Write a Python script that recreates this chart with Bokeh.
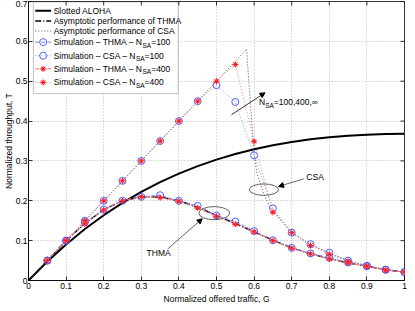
import math
from bokeh.plotting import figure
from bokeh.models import Range1d, FixedTicker, Label, Arrow, NormalHead, BoxAnnotation, Title
from bokeh.embed import file_html
from bokeh.resources import INLINE

# ---------------- data ----------------
G = [0.0, 0.05, 0.1, 0.15, 0.2, 0.25, 0.3, 0.35, 0.4, 0.45, 0.5,
     0.55, 0.6, 0.65, 0.7, 0.75, 0.8, 0.85, 0.9, 0.95, 1.0]
aloha_T = [0.0, 0.0476, 0.0905, 0.1291, 0.1637, 0.1947, 0.2222, 0.2466, 0.2681, 0.2869, 0.3033,
           0.3173, 0.3293, 0.3393, 0.3476, 0.3543, 0.3595, 0.3633, 0.3659, 0.3674, 0.3679]
thma_asym_T = [0.0, 0.05, 0.1, 0.143, 0.178, 0.2, 0.21, 0.209, 0.2, 0.184, 0.163,
               0.143, 0.122, 0.101, 0.082, 0.067, 0.055, 0.044, 0.036, 0.027, 0.021]
csa_asym_G = [0.0, 0.58, 0.588, 0.596, 0.6, 0.607, 0.624, 0.641, 0.65,
              0.7, 0.75, 0.8, 0.85, 0.9, 0.95, 1.0]
csa_asym_T = [0.0, 0.58, 0.47, 0.37, 0.32, 0.271, 0.222, 0.185, 0.176,
              0.12, 0.09, 0.068, 0.05, 0.037, 0.027, 0.021]

G_sim = [0.05, 0.1, 0.15, 0.2, 0.25, 0.3, 0.35, 0.4, 0.45, 0.5,
         0.55, 0.6, 0.65, 0.7, 0.75, 0.8, 0.85, 0.9, 0.95, 1.0]
thma_100 = [0.05, 0.1, 0.146, 0.178, 0.2, 0.21, 0.214, 0.2, 0.187, 0.163,
            0.148, 0.124, 0.101, 0.082, 0.068, 0.057, 0.045, 0.036, 0.027, 0.021]
csa_100 = [0.05, 0.1, 0.15, 0.2, 0.25, 0.3, 0.35, 0.4, 0.45, 0.49,
           0.448, 0.314, 0.181, 0.12, 0.091, 0.07, 0.05, 0.037, 0.027, 0.021]
thma_400 = [0.05, 0.1, 0.142, 0.177, 0.2, 0.21, 0.208, 0.199, 0.182, 0.161,
            0.141, 0.122, 0.1, 0.081, 0.067, 0.054, 0.044, 0.035, 0.026, 0.021]
csa_400 = [0.05, 0.1, 0.15, 0.2, 0.25, 0.3, 0.35, 0.4, 0.45, 0.5,
           0.542, 0.349, 0.171, 0.12, 0.088, 0.066, 0.048, 0.036, 0.026, 0.021]

x_ticks = [0.0, 0.1, 0.2, 0.3, 0.4, 0.5, 0.6, 0.7, 0.8, 0.9, 1.0]
x_tick_labels = ["0", "0.1", "0.2", "0.3", "0.4", "0.5", "0.6", "0.7", "0.8", "0.9", "1"]
y_ticks = [0.0, 0.1, 0.2, 0.3, 0.4, 0.5, 0.6, 0.7]
y_tick_labels = ["0", "0.1", "0.2", "0.3", "0.4", "0.5", "0.6", "0.7"]

# ---------------- styling ----------------
FONT = "Liberation Sans"
FS = 8.5
BLUE = "#3f4fff"
RED = "#ff1a1a"
BLUE_LINE = "#7a86ff"
RED_LINE = "#ff6a6a"
X_MIN, X_MAX, Y_MIN, Y_MAX = 0, 1, 0, 0.7

p = figure(width=407, height=303, x_range=Range1d(X_MIN, X_MAX), y_range=Range1d(Y_MIN, Y_MAX),
           output_backend="svg", toolbar_location=None,
           min_border_left=0, min_border_right=3, min_border_top=1, min_border_bottom=0)
p.outline_line_color = "black"
p.outline_line_width = 0.8

p.xaxis.ticker = FixedTicker(ticks=x_ticks)
p.yaxis.ticker = FixedTicker(ticks=y_ticks)
p.xgrid.ticker = FixedTicker(ticks=x_ticks)
p.ygrid.ticker = FixedTicker(ticks=y_ticks)
p.xaxis.major_label_overrides = {t: l for t, l in zip(x_ticks, x_tick_labels)}
p.yaxis.major_label_overrides = {t: l for t, l in zip(y_ticks, y_tick_labels)}
p.yaxis.axis_label = "Normalized throughput, T"
for ax in (p.xaxis, p.yaxis):
    ax.major_tick_in = 4
    ax.major_tick_out = 0
    ax.minor_tick_in = 0
    ax.minor_tick_out = 0
    ax.minor_tick_line_color = None
    ax.axis_line_color = "black"
    ax.axis_line_width = 0.8
    ax.major_tick_line_width = 0.8
    ax.major_label_text_font = FONT
    ax.major_label_text_font_size = f"{FS}px"
    ax.major_label_text_color = "black"
    ax.axis_label_text_font = FONT
    ax.axis_label_text_font_size = f"{FS}px"
    ax.axis_label_text_font_style = "normal"
    ax.axis_label_text_color = "black"
p.xaxis.major_label_standoff = 2
p.yaxis.major_label_standoff = 1
p.yaxis.axis_label_standoff = -1

# x-axis title as a Title placed below the axis (tighter than the axis label)
p.add_layout(Title(text="Normalized offered traffic, G", align="center", text_font=FONT,
                   text_font_size=f"{FS}px", text_font_style="normal", text_color="black",
                   standoff=0, offset=0), "below")

p.grid.grid_line_color = "#a8a8a8"
p.grid.grid_line_dash = "1 2"
p.grid.grid_line_width = 0.8

# inward ticks on the top and right edges of the box (half of each dash is clipped)
p.scatter(x_ticks, [Y_MAX] * len(x_ticks), marker="dash", angle=math.pi / 2, size=8,
          line_color="black", line_width=0.8)
p.scatter([X_MAX] * len(y_ticks), y_ticks, marker="dash", size=8,
          line_color="black", line_width=0.8)

# ---------------- data marks ----------------
p.line(G, aloha_T, line_color="black", line_width=2)
p.line(G, thma_asym_T, line_color="black", line_width=1.4, line_dash="6 2 1 2")
p.line(csa_asym_G, csa_asym_T, line_color="#505050", line_width=1, line_dash="1 2")

p.line(G_sim, thma_100, line_color=BLUE_LINE, line_width=1, line_dash="4 2")
p.scatter(G_sim, thma_100, marker="circle", size=7, fill_color=None, line_color=BLUE, line_width=0.9)
p.line(G_sim, csa_100, line_color=BLUE_LINE, line_width=0.9, line_dash="1 2")
p.scatter(G_sim, csa_100, marker="circle", size=7, fill_color=None, line_color=BLUE, line_width=0.9)
p.line(G_sim, thma_400, line_color=RED_LINE, line_width=1, line_dash="4 2")
p.scatter(G_sim, thma_400, marker="circle", size=4, fill_color="#ff8080", line_color=None)
p.scatter(G_sim, thma_400, marker="asterisk", size=6, line_color=RED, line_width=1)
p.line(G_sim, csa_400, line_color=RED_LINE, line_width=0.9, line_dash="1 2")
p.scatter(G_sim, csa_400, marker="circle", size=4, fill_color="#ff8080", line_color=None)
p.scatter(G_sim, csa_400, marker="asterisk", size=6, line_color=RED, line_width=1)

# ---------------- text helpers ----------------
W = {' ': 278, '–': 556, '=': 584, ',': 278, '.': 278, '∞': 713,
     'S': 667, 'A': 667, 'N': 722, 'T': 611, 'H': 722, 'M': 833, 'C': 722,
     'i': 222, 'm': 833, 'u': 556, 'l': 222, 'a': 556, 't': 278, 'o': 556, 'n': 556}


def text_width(s, size):
    return sum(W.get(c, 556) for c in s) * size / 1000.0


def sub_label(x, y, parts, size=FS, sub_size=6.5):
    off = 0.0
    for txt, is_sub in parts:
        fs = sub_size if is_sub else size
        p.add_layout(Label(x=x, y=y, x_offset=off, y_offset=-3 if is_sub else 0, text=txt,
                           text_font=FONT, text_font_size=f"{fs}px", text_baseline="middle",
                           text_align="left", text_color="black"))
        off += text_width(txt, fs)


# ---------------- legend ----------------
leg_box = BoxAnnotation(left=0.013, right=0.398, bottom=0.469, top=0.699,
                        fill_color="white", fill_alpha=1, line_color="black",
                        line_width=0.8, level="underlay")
p.add_layout(leg_box)
row_y = [0.677, 0.651, 0.626, 0.598, 0.564, 0.531, 0.497]
lx0, lx1, lxm, ltx = 0.018, 0.06, 0.039, 0.067
rows = [
    [("Slotted ALOHA", False)],
    [("Asymptotic performance of THMA", False)],
    [("Asymptotic performance of CSA", False)],
    [("Simulation – THMA – N", False), ("SA", True), ("=100", False)],
    [("Simulation – CSA – N", False), ("SA", True), ("=100", False)],
    [("Simulation – THMA – N", False), ("SA", True), ("=400", False)],
    [("Simulation – CSA – N", False), ("SA", True), ("=400", False)],
]
p.line([lx0, lx1], [row_y[0]] * 2, line_color="black", line_width=2)
p.line([lx0, lx1], [row_y[1]] * 2, line_color="black", line_width=1.4, line_dash="6 2 1 2")
p.line([lx0, lx1], [row_y[2]] * 2, line_color="#505050", line_width=1, line_dash="1 2")
p.line([lx0, lx1], [row_y[3]] * 2, line_color=BLUE_LINE, line_width=1, line_dash="4 2")
p.scatter([lxm], [row_y[3]], marker="circle", size=7, fill_color=None, line_color=BLUE, line_width=0.9)
p.line([lx0, lx1], [row_y[4]] * 2, line_color=BLUE_LINE, line_width=0.9, line_dash="1 2")
p.scatter([lxm], [row_y[4]], marker="circle", size=7, fill_color=None, line_color=BLUE, line_width=0.9)
p.line([lx0, lx1], [row_y[5]] * 2, line_color=RED_LINE, line_width=1, line_dash="4 2")
p.scatter([lxm], [row_y[5]], marker="circle", size=4, fill_color="#ff8080", line_color=None)
p.scatter([lxm], [row_y[5]], marker="asterisk", size=6, line_color=RED, line_width=1)
p.line([lx0, lx1], [row_y[6]] * 2, line_color=RED_LINE, line_width=0.9, line_dash="1 2")
p.scatter([lxm], [row_y[6]], marker="circle", size=4, fill_color="#ff8080", line_color=None)
p.scatter([lxm], [row_y[6]], marker="asterisk", size=6, line_color=RED, line_width=1)
for yy, parts in zip(row_y, rows):
    sub_label(ltx, yy, parts)

# ---------------- annotations ----------------
p.ellipse(x=[0.626], y=[0.228], width=[0.0775], height=[0.0286],
          fill_color=None, line_color="#606060", line_width=1)
p.ellipse(x=[0.494], y=[0.169], width=[0.082], height=[0.0327],
          fill_color=None, line_color="#606060", line_width=1)

p.add_layout(Arrow(end=NormalHead(size=5, fill_color="black", line_color="black"),
                   x_start=0.54, y_start=0.416, x_end=0.629, y_end=0.471,
                   line_color="black", line_width=0.8))
p.add_layout(Arrow(end=NormalHead(size=5, fill_color="black", line_color="black"),
                   x_start=0.732, y_start=0.255, x_end=0.665, y_end=0.236,
                   line_color="black", line_width=0.6))
p.add_layout(Arrow(end=NormalHead(size=5, fill_color="black", line_color="black"),
                   x_start=0.37, y_start=0.079, x_end=0.462, y_end=0.155,
                   line_color="black", line_width=0.6))

sub_label(0.613, 0.447, [("N", False), ("SA", True), ("=100,400,∞", False)])
sub_label(0.739, 0.26, [("CSA", False)])
sub_label(0.314, 0.069, [("THMA", False)])

open("out.html", "w").write(file_html(p, INLINE))
